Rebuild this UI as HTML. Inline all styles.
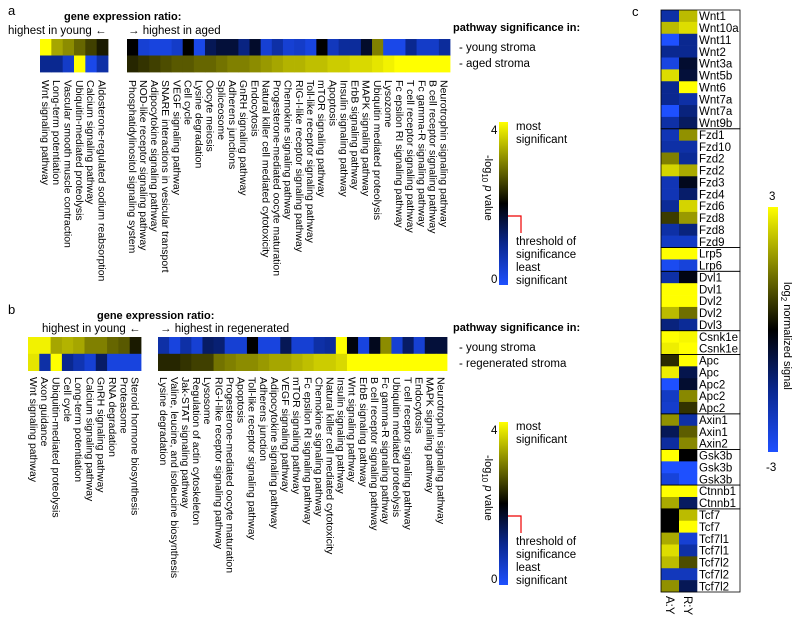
<!DOCTYPE html>
<html><head><meta charset="utf-8"><style>
body{margin:0;background:#fff}
svg{display:block;font-family:"Liberation Sans",Arial,sans-serif}
</style></head><body>
<svg id="fig" width="800" height="618" viewBox="0 0 800 618" xmlns="http://www.w3.org/2000/svg">
<defs>
<linearGradient id="sigGrad" x1="0" y1="1" x2="0" y2="0">
<stop offset="0" stop-color="#1e50ff"/><stop offset="0.25" stop-color="#0a2890"/><stop offset="0.5" stop-color="#000"/><stop offset="1" stop-color="#ffff00"/>
</linearGradient>
</defs>
<g id="root"></g>
</svg>
<script>
// ---------- DATA ----------
const aLeftLabels=["Wnt signaling pathway","Long-term potentiation","Vascular smooth muscle contraction","Ubiquitin-mediated proteolysis","Calcium signaling pathway","Aldosterone-regulated sodium reabsorption"];
const aLeftYoung=[4,3.3,3.1,2.8,2.5,2.2];
const aLeftAged=[1.0,1.0,0.5,4,0.2,0.8];
const aRightLabels=["Phosphatidylinositol signaling system","NOD-like receptor signaling pathway","Adipocytokine signaling pathway","SNARE interactions in vesicular transport","VEGF signaling pathway","Cell cycle","Lysine degradation","Oocyte meiosis","Spliceosome","Adherens junctions","GnRH signaling pathway","Endocytosis","Natural killer cell mediated cytotoxicity","Progesterone-mediated oocyte maturation","Chemokine signaling pathway","RIG-I-like receptor signaling pathway","Toll-like receptor signaling pathway","mTOR signaling pathway","Apoptosis","Insulin signaling pathway","ErbB signaling pathway","MAPK signaling pathway","Ubiquitin mediated proteolysis","Lysozome","Fc epsilon RI signaling pathway","T cell receptor signaling pathway","Fc gamma-R signaling pathway","B cell receptor signaling pathway","Neurotrophin signaling pathway"];
const aRightYoung=[2.0,0.4,0.3,0.3,0.5,2.0,0.2,1.4,1.6,1.6,1.1,1.7,0.4,0.8,0.4,0.5,0.3,2.0,0.6,0.9,0.9,1.7,3.0,0.2,0.2,1.0,0.5,0.5,0.9];
const aRightAged=[2.3,2.4,2.5,2.6,2.7,2.7,2.8,2.8,2.9,3.0,3.0,3.1,3.2,3.3,3.4,3.4,3.5,3.5,3.6,3.6,3.7,3.7,3.8,3.9,4,4,4,4,4];
const bLeftLabels=["Wnt signaling pathway","Axon guidance","Ubiquitin-mediated proteolysis","Cell cycle","Long-term potentiation","Calcium signaling pathway","GnRH signaling pathway","RNA degradation","Proteasome","Steroid hormone biosynthesis"];
const bLeftYoung=[3.9,3.9,3.3,3.4,3.3,3.0,3.0,2.8,2.7,2.2];
const bLeftRegen=[3.8,0.8,4,1.0,0.7,0.4,1.3,0.3,0.3,0.3];
const bRightLabels=["Lysine degradation","Valine, leucine, and isoleucine biosynthesis","Jak-STAT signaling pathway","Regulation of actin cytoskeleton","Lysosome","RIG-I-like receptor signaling pathway","Progesterone-mediated oocyte maturation","Apoptosis","Toll-like receptor signaling pathway","Adherens junction","Adipocytokine signaling pathway","VEGF signaling pathway","mTOR signaling pathway","Fc epsilon RI signaling pathway","Chemokine signaling pathway","Natural killer cell mediated cytotoxicity","Insulin signaling pathway","Wnt signaling pathway","ErbB signaling pathway","B cell receptor signaling pathway","Fc gamma-R signaling pathway","Ubiquitin mediated proteolysis","T cell receptor signaling pathway","Endocytosis","MAPK signaling pathway","Neurotrophin signaling pathway"];
const bRightYoung=[0.8,0.3,0.8,0.4,1.3,1.2,0.4,0.4,2.0,0.3,0.3,1.4,0.4,0.4,0.8,0.9,4,1.9,0.3,1.8,3.1,0.4,1.3,0.4,1.6,1.6];
const bRightRegen=[2.3,2.3,2.4,2.5,2.5,2.9,3.0,3.1,3.1,3.2,3.3,3.3,3.4,3.5,3.6,3.6,3.7,4,4,4,4,4,4,4,4,4];
const cGenes=["Wnt1","Wnt10a","Wnt11","Wnt2","Wnt3a","Wnt5b","Wnt6","Wnt7a","Wnt7a","Wnt9b","Fzd1","Fzd10","Fzd2","Fzd2","Fzd3","Fzd4","Fzd6","Fzd8","Fzd8","Fzd9","Lrp5","Lrp6","Dvl1","Dvl1","Dvl2","Dvl2","Dvl3","Csnk1e","Csnk1e","Apc","Apc","Apc2","Apc2","Apc2","Axin1","Axin1","Axin2","Gsk3b","Gsk3b","Gsk3b","Ctnnb1","Ctnnb1","Tcf7","Tcf7","Tcf7l1","Tcf7l1","Tcf7l2","Tcf7l2","Tcf7l2"];
const cAY=[-1.8,2.2,-3,-1.5,-2.6,2.6,-1.5,-1.5,-3,-1.8,-2,-1.8,1.5,2.5,-2,-2,-1.6,0.7,-1.8,-2.2,3,-2.8,-1.8,3,3,2.2,-1.3,3,2.8,0.5,2.8,-3,-2.2,-2.3,1.7,-0.9,-1.7,3,-3,-2.5,3,2,0,0,2,2.6,2.2,-2.1,1.7];
const cRY=[2.2,2.6,-1.5,-1.5,-0.5,-0.6,3,-1.8,-1.3,-1.0,1.7,-1.8,-1.6,2.0,-0.3,-1.1,2.5,1.8,-1.3,-2.2,3,-2.5,-0.2,3,3,1.3,-1.6,2.9,3,3,-0.8,-0.5,1.6,0.6,-1.8,1.1,1.6,0,-3,-3,3,-1,2.2,3,-2.4,-1.8,0.9,-2.1,-0.9];
const cGroupSizes=[10,10,2,5,2,5,3,3,2,7];
const cColumns=["A:Y","R:Y"];

// ---------- HELPERS ----------
const NS="http://www.w3.org/2000/svg";
const root=document.getElementById('root');
function mk(tag,attrs,parent){const e=document.createElementNS(NS,tag);for(const k in attrs)e.setAttribute(k,attrs[k]);(parent||root).appendChild(e);return e;}
function lerp(a,b,t){return a.map((v,i)=>Math.round(v+(b[i]-v)*t));}
const BLUE=[30,80,255],NAVY=[10,40,144],BLK=[0,0,0],YEL=[255,255,0];
function colorT(t){ // t in 0..1
  t=Math.max(0,Math.min(1,t));let c;
  if(t<0.25)c=lerp(BLUE,NAVY,t/0.25);else if(t<0.5)c=lerp(NAVY,BLK,(t-0.25)/0.25);else c=lerp(BLK,YEL,(t-0.5)/0.5);
  return `rgb(${c[0]},${c[1]},${c[2]})`;}
function sigColor(v){return colorT(v/4);}
function logColor(v){return colorT((v+3)/6);}
function txt(x,y,s,size,attrs){const t=mk('text',Object.assign({x:x,y:y,'font-size':size,fill:'#000'},attrs||{}));t.textContent=s;return t;}

function heat(x0,x1,y0,rowH,rows,labels,name,labelY){
  const n=labels.length,w=(x1-x0)/n;
  rows.forEach((vals,r)=>{
    vals.forEach((v,i)=>{
      const rc=mk('rect',{x:x0+i*w,y:y0+r*rowH,width:w+0.4,height:rowH+0.4,fill:sigColor(v)});
      
      
    });
  });
  labels.forEach((s,i)=>{
    const cx=x0+(i+0.5)*w-3.8;
    const t=txt(cx,labelY,s,10.5,{transform:`rotate(90 ${cx} ${labelY})`});
    
    
  });
}

function legend(dy,rowNames){
  const t1=txt(453,31+dy,'pathway significance in:',11,{'font-weight':'bold'});
  
  const t2=txt(459,51+dy,'- '+rowNames[0],11.5);
  
  const t3=txt(459,67+dy,'- '+rowNames[1],11.5);
  
  const bar=mk('rect',{x:499,y:122+dy,width:9,height:163,fill:'url(#sigGrad)'});
  
  txt(491,134+dy,'4',11.5,{});
  txt(491,283+dy,'0',11.5,{});
  const pl=mk('path',{d:`M508 ${216+dy} H521 V${233+dy}`,stroke:'#e00',fill:'none','stroke-width':1.2});
  
  [['most',130],['significant',143],['threshold of',245],['significance',258],['least',271],['significant',284]].forEach(([s,y])=>{
    const t=txt(516,y+dy,s,11.5);});
  const lx=485,ly=155+dy;
  const ax=mk('text',{x:lx,y:ly,'font-size':11,transform:`rotate(90 ${lx} ${ly})`});
  
  ax.innerHTML='-log<tspan font-size="8" dy="3">10</tspan><tspan dy="-3"> </tspan><tspan font-style="italic">p</tspan> value';
}

// ---------- PANEL A ----------
txt(8,15,'a',13,{});
txt(64,20,'gene expression ratio:',11,{'font-weight':'bold',});
txt(8,34,'highest in young \u2190',11.5,{});
txt(128,34,'\u2192 highest in aged',11.5,{});
heat(40,108,39,16.5,[aLeftYoung,aLeftAged],aLeftLabels,'a-left-heatmap',80);
heat(127,450,39,16.5,[aRightYoung,aRightAged],aRightLabels,'a-right-heatmap',80);
legend(0,['young stroma','aged stroma']);

// ---------- PANEL B ----------
txt(8,314,'b',13,{});
txt(97,319,'gene expression ratio:',11,{'font-weight':'bold',});
txt(42,332,'highest in young \u2190',11.5,{});
txt(160,332,'\u2192 highest in regenerated',11.5,{});
heat(28,141,337,16.8,[bLeftYoung,bLeftRegen],bLeftLabels,'b-left-heatmap',377);
heat(158,447,337,16.8,[bRightYoung,bRightRegen],bRightLabels,'b-right-heatmap',377);
legend(300,['young stroma','regenerated stroma']);

// ---------- PANEL C ----------
txt(632,16,'c',13,{});
const cx0=661,cw=18,cy0=10,ch=582/cGenes.length,lx1=740;
const cVals=[cAY,cRY];
cVals.forEach((col,j)=>{col.forEach((v,i)=>{
  const r=mk('rect',{x:cx0+j*cw,y:cy0+i*ch,width:cw+0.3,height:ch+0.3,fill:logColor(v)});
  
  
});});
cGenes.forEach((g,i)=>{
  const t=txt(699,cy0+(i+0.5)*ch+4.2,g,11.5);
  
  
});
let acc=0;
cGroupSizes.forEach(n=>{
  const b=mk('rect',{x:cx0,y:cy0+acc*ch,width:lx1-cx0,height:n*ch,fill:'none',stroke:'#000','stroke-width':0.8});
  
  
  acc+=n;
});
cColumns.forEach((s,j)=>{
  const x=cx0+(j+0.5)*cw-4,y=596;
  const t=txt(x,y,s,11.5,{transform:`rotate(90 ${x} ${y})`});
  
  
});
const cg=mk('defs',{});
const lg=mk('linearGradient',{id:'logGrad',x1:0,y1:1,x2:0,y2:0},cg);
[[0,'#1e50ff'],[0.25,'#0a2890'],[0.5,'#000'],[1,'#ffff00']].forEach(([o,c])=>mk('stop',{offset:o,'stop-color':c},lg));
const cbar=mk('rect',{x:768,y:207,width:10,height:245,fill:'url(#logGrad)'});


txt(769,200,'3',11.5,{});
txt(766,471,'-3',11.5,{});
const clx=784,cly=282;
const ct=mk('text',{x:clx,y:cly,'font-size':11,transform:`rotate(90 ${clx} ${cly})`});


ct.innerHTML='log<tspan font-size="8" dy="3">2</tspan><tspan dy="-3"> normalized signal</tspan>';
</script>
</body></html>
